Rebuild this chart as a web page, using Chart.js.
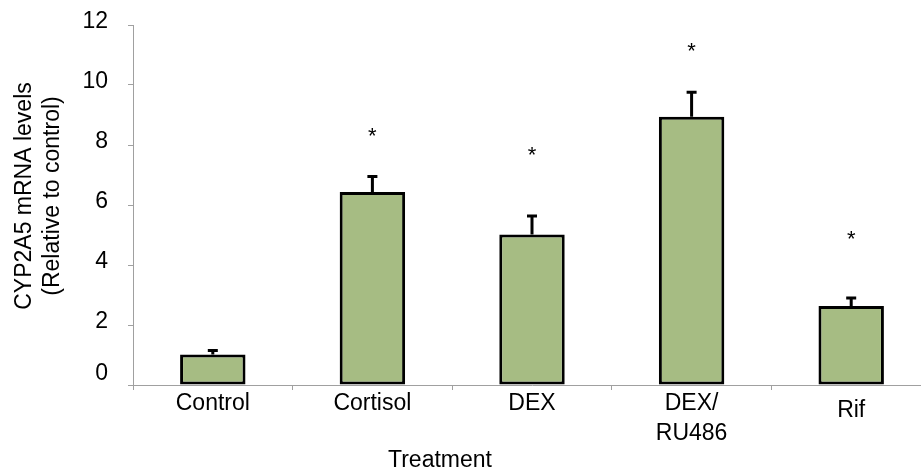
<!DOCTYPE html>
<html><head><meta charset="utf-8">
<script src="https://cdn.jsdelivr.net/npm/chart.js@4.4.0/dist/chart.umd.min.js"></script>
<style>
html,body{margin:0;padding:0;overflow:hidden;background:#fff;width:921px;height:473px}
#wrap{position:absolute;left:0;top:0;width:931px;height:473px}
</style>
</head><body><div id="wrap"><canvas id="c" width="931" height="473"></canvas></div>
<script>
const categories = ['Control', 'Cortisol', 'DEX', ['DEX/', 'RU486'], 'Rif'];
const meanValues = [1.02, 6.43, 5.02, 8.94, 2.63];
const errorValues = [0.13, 0.52, 0.61, 0.82, 0.27];
const starLevels = [null, 8.48, 7.87, 11.33, 5.07];
const yTicks = [0, 2, 4, 6, 8, 10, 12];
const yTitle = ['CYP2A5 mRNA levels', '(Relative to control)'];
const xTitle = 'Treatment';

const FONT = '"Liberation Sans", Arial, sans-serif';
const AXIS_GRAY = '#a0a0a0';

const errorBarPlugin = {
  id: 'errorBars',
  afterDatasetsDraw(chart) {
    const ctx = chart.ctx, y = chart.scales.y;
    const meta = chart.getDatasetMeta(0);
    ctx.save();
    ctx.strokeStyle = '#000';
    ctx.lineWidth = 3;
    ctx.lineCap = 'butt';
    meta.data.forEach((bar, i) => {
      const base = y.getPixelForValue(meanValues[i]);
      const top = y.getPixelForValue(meanValues[i] + errorValues[i]);
      ctx.beginPath();
      ctx.moveTo(bar.x, base);
      ctx.lineTo(bar.x, top);
      ctx.moveTo(bar.x - 5, top);
      ctx.lineTo(bar.x + 5, top);
      ctx.stroke();
    });
    ctx.fillStyle = '#000';
    ctx.font = '22px ' + FONT;
    ctx.textAlign = 'center';
    ctx.textBaseline = 'alphabetic';
    meta.data.forEach((bar, i) => {
      if (starLevels[i] == null) return;
      const py = y.getPixelForValue(starLevels[i]);
      ctx.fillText('*', bar.x, py + 0.58 * 22);
    });
    ctx.restore();
  }
};

const titlesPlugin = {
  id: 'axisTitles',
  afterDraw(chart) {
    const ctx = chart.ctx, a = chart.chartArea;
    ctx.save();
    ctx.fillStyle = '#000';
    ctx.font = '23px ' + FONT;
    ctx.textAlign = 'center';
    ctx.textBaseline = 'middle';
    ctx.fillText(xTitle, a.left + 307, chart.height - 12);
    ctx.translate(0, a.top + 171);
    ctx.rotate(-Math.PI / 2);
    yTitle.forEach((line, i) => ctx.fillText(line, 0, 24.5 + i * 28));
    ctx.restore();
  }
};

new Chart(document.getElementById('c'), {
  type: 'bar',
  data: {
    labels: categories,
    datasets: [{
      data: meanValues,
      backgroundColor: '#a6bc83',
      borderColor: '#000',
      borderWidth: 3,
      borderSkipped: false,
      categoryPercentage: 1,
      barPercentage: 0.41
    }]
  },
  options: {
    responsive: false,
    devicePixelRatio: 1,
    animation: false,
    layout: { padding: { top: 25, left: 0, right: 0, bottom: 0 } },
    plugins: { legend: { display: false }, tooltip: { enabled: false } },
    scales: {
      x: {
        grid: { display: true, offset: true, drawOnChartArea: false, tickLength: 5, color: AXIS_GRAY },
        border: { color: AXIS_GRAY, width: 1 },
        ticks: {
          color: '#000',
          padding: -1,
          maxRotation: 0,
          autoSkip: false,
          font: (ctx) => ({ family: FONT, size: 23, lineHeight: (ctx.index === 4) ? '44px' : 1.3 })
        },
        afterFit: (s) => { s.height = 88; s.paddingLeft = 0; s.paddingRight = 0; }
      },
      y: {
        min: 0, max: 12,
        afterBuildTicks: (s) => { s.ticks = yTicks.map(v => ({ value: v })); },
        grid: { display: true, drawOnChartArea: false, tickLength: 5, color: AXIS_GRAY },
        border: { color: AXIS_GRAY, width: 1 },
        ticks: {
          color: '#000',
          padding: 20,
          labelOffset: -3.5,
          callback: (v) => v === 0 ? ['0', ''] : String(v),
          font: (ctx) => ({ family: FONT, size: 23, lineHeight: (ctx.tick && ctx.tick.value === 0) ? '16px' : 1.2 })
        },
        title: { display: false },
        afterFit: (s) => { s.width = 133; s.paddingTop = 0; s.paddingBottom = 0; }
      }
    }
  },
  plugins: [errorBarPlugin, titlesPlugin]
});
</script>
</body></html>
